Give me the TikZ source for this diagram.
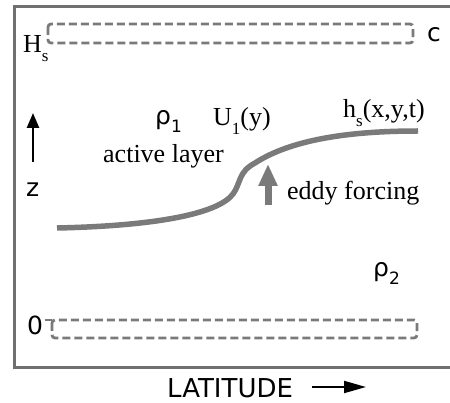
\documentclass[tikz,border=0pt]{standalone}
\usepackage{fontspec}
\setmainfont{Liberation Serif}
\newfontfamily\dvs{DejaVu Sans}
\usetikzlibrary{arrows.meta}
\definecolor{frm}{HTML}{707070}
\definecolor{gry}{HTML}{7A7A7A}
\newcommand\lowsub[1]{\raisebox{-0.32em}{\fontsize{17}{17}\selectfont #1}}
\begin{document}
\begin{tikzpicture}[x=1pt,y=-1pt,
  serlab/.style={inner sep=0pt,anchor=base west,font=\fontsize{26}{26}\selectfont},
  sanlab/.style={inner sep=0pt,anchor=base west,font=\dvs\fontsize{25}{25}\selectfont},
  dbox/.style={draw=gry,line width=2.8pt,dash pattern=on 8pt off 4pt,rounded corners=3pt}]
\useasboundingbox (0,0) rectangle (450,403);
% frame
\draw[frm,line width=3pt] (452,7) -- (14,7) -- (14,368) -- (452,368);
% dashed layers
\draw[dbox] (48,24) rectangle (413,43);
\draw[dbox] (52,320) rectangle (417,338);
\coordinate (tk) at (45,320);
\coordinate (tkb) at (52,320);
\draw[gry,line width=2pt] (tk) -- (tkb);
% labels
\node[serlab] (Hs) at (23,53) {H\lowsub{s}};
\node[sanlab] (c) at (427,42) {c};
\node[sanlab] (rho1) at (155,125) {ρ\lowsub{1}};
\node[serlab] (U1) at (213,126) {U\lowsub{1}(y)};
\node[serlab] (hs) at (343,118) {h\lowsub{s}(x,y,t)};
\node[serlab] (act) at (103,163) {active layer};
\node[serlab] (eddy) at (287,200) {eddy forcing};
\node[sanlab] (z) at (26,197) {z};
\node[sanlab] (rho2) at (373,277) {ρ\lowsub{2}};
\node[sanlab] (zero) at (27,335) {0};
\node[sanlab,font=\dvs\fontsize{26}{26}\selectfont] (lat) at (167,397) {LATITUDE};
% z arrow
\coordinate (za) at (33,162);
\coordinate (zb) at (33,113);
\draw[line width=2.6pt,-{Triangle[width=12pt,length=15pt]}] (za) -- (zb);
% latitude arrow
\coordinate (la) at (312,387);
\coordinate (lb) at (366,387);
\draw[line width=2pt,-{Triangle[width=12pt,length=22pt]}] (la) -- (lb);
% interface
\coordinate (c0) at (57,228);
\coordinate (c1) at (233,194);
\coordinate (c2) at (255,163);
\coordinate (c3) at (418,131);
\draw[gry,line width=5.5pt] (c0) .. controls (150,226) and (217,215) .. (c1)
  .. controls (241,183) and (238,172) .. (c2)
  .. controls (295,137) and (360,131) .. (c3);
% eddy forcing arrow
\coordinate (ea) at (268,205);
\coordinate (eb) at (268,164);
\draw[gry,line width=7pt,-{Triangle[width=18pt,length=22pt]}] (ea) -- (eb);
\end{tikzpicture}
\end{document}
